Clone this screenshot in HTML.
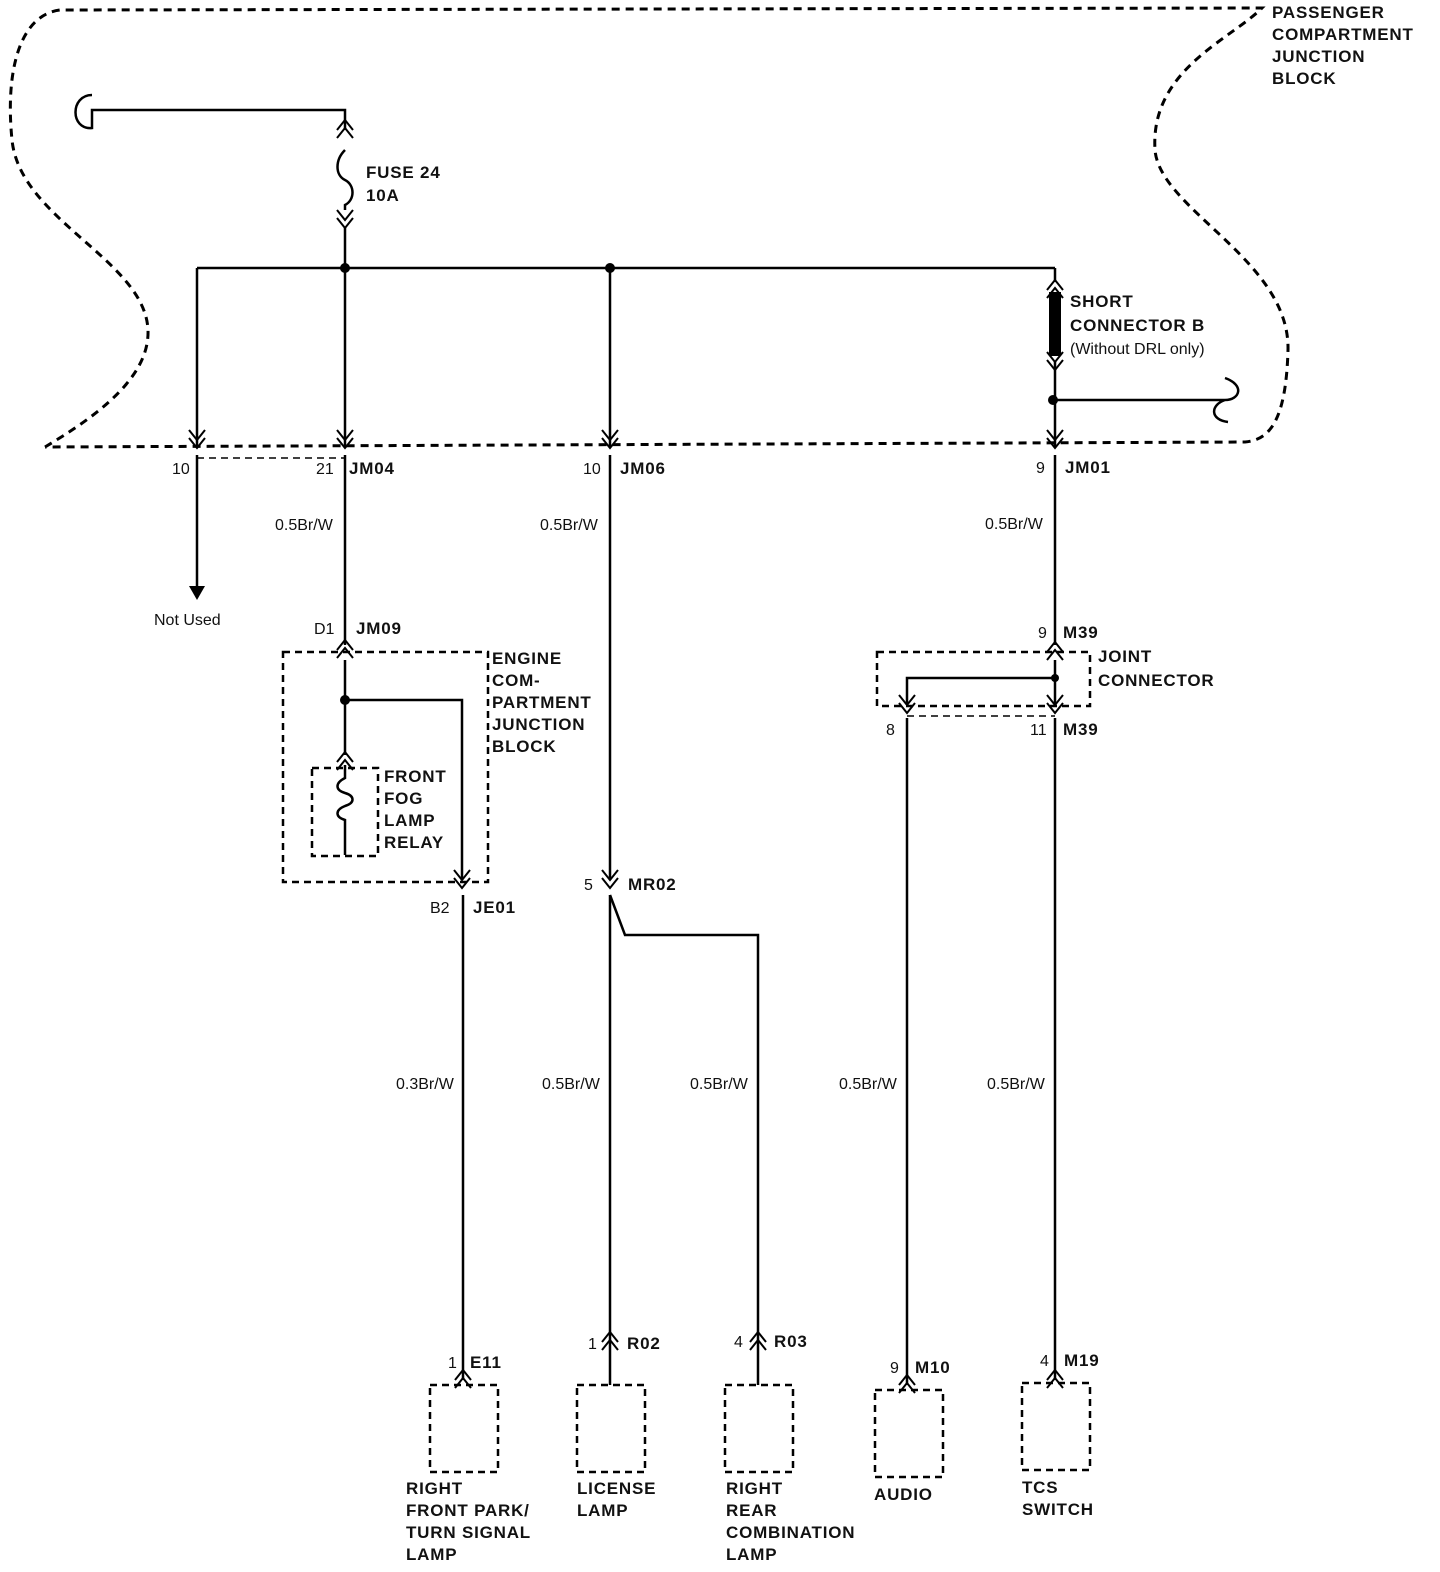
<!DOCTYPE html>
<html><head><meta charset="utf-8"><style>
html,body{margin:0;padding:0;background:#fff;}
svg{display:block}
text{font-family:"Liberation Sans",sans-serif;font-size:16px;fill:#111}
.b{font-weight:bold;font-size:17px;letter-spacing:0.8px}
</style></head><body>
<svg width="1440" height="1572" viewBox="0 0 1440 1572" xmlns="http://www.w3.org/2000/svg">
<defs>
<g id="ch"><polyline points="-8,-10 0,0 8,-10" fill="none" stroke="#000" stroke-width="2"/><polyline points="-8,-2 0,8 8,-2" fill="none" stroke="#000" stroke-width="2"/></g>
<g id="cu"><polyline points="-8,10 0,0 8,10" fill="none" stroke="#000" stroke-width="2"/><polyline points="-8,2 0,-8 8,2" fill="none" stroke="#000" stroke-width="2"/></g>
</defs>
<g fill="none" stroke="#000" stroke-width="3" stroke-dasharray="8,6">
<path d="M45,447 C90,420 150,380 148,330 C145,260 20,220 12,140 C5,70 20,15 60,10 L1262,8 C1230,40 1150,70 1155,150 C1160,210 1290,260 1288,350 C1286,420 1270,440 1245,442 L45,447"/>
</g>
<g fill="none" stroke="#000" stroke-width="2.5">
<path d="M92,95 C70,95 70,130 92,128 L92,110 L345,110 L345,130"/>
<path d="M345,150 C335,160 335,175 345,180 C355,185 355,200 345,205 L345,210"/>
<line x1="345" y1="228" x2="345" y2="447"/>
<line x1="197" y1="268" x2="1055" y2="268"/>
<line x1="197" y1="268" x2="197" y2="447"/>
<line x1="610" y1="268" x2="610" y2="447"/>
<line x1="1055" y1="268" x2="1055" y2="282"/>
<line x1="1055" y1="362" x2="1055" y2="447"/>
<path d="M1055,400 L1225,400 M1225,378 C1245,385 1240,400 1225,400 M1225,400 C1210,405 1210,420 1228,422"/>
<line x1="197" y1="455" x2="197" y2="590"/>
<line x1="345" y1="455" x2="345" y2="645"/>
<line x1="610" y1="455" x2="610" y2="880"/>
<line x1="1055" y1="455" x2="1055" y2="645"/>
<line x1="345" y1="660" x2="345" y2="755"/>
<path d="M345,700 L462,700 L462,880"/>
<line x1="463" y1="895" x2="463" y2="1380"/>
<line x1="610" y1="895" x2="610" y2="1385"/>
<path d="M610,895 L625,935 L758,935 L758,1385"/>
<line x1="1055" y1="660" x2="1055" y2="705"/>
<path d="M1055,678 L907,678 L907,705"/>
<line x1="907" y1="718" x2="907" y2="1385"/>
<line x1="1055" y1="718" x2="1055" y2="1380"/>
<path d="M345,765 L345,778 C335,783 335,790 345,793 C355,796 355,803 345,806 C335,810 335,817 345,820 L345,855"/>
</g>
<rect x="1049" y="292" width="12" height="64" fill="#000"/>
<g fill="#000">
<circle cx="345" cy="268" r="5"/><circle cx="610" cy="268" r="5"/><circle cx="1053" cy="400" r="5"/>
<circle cx="345" cy="700" r="5"/><circle cx="1055" cy="678" r="4"/>
<polygon points="189,586 205,586 197,600"/>
</g>
<use href="#cu" x="345" y="128"/><use href="#ch" x="345" y="220"/>
<use href="#cu" x="1055" y="288"/><use href="#ch" x="1055" y="362"/>
<use href="#ch" x="197" y="440"/><use href="#ch" x="345" y="440"/><use href="#ch" x="610" y="440"/><use href="#ch" x="1055" y="440"/>
<use href="#cu" x="345" y="648"/><use href="#cu" x="345" y="760"/>
<use href="#ch" x="462" y="880"/><use href="#ch" x="610" y="880"/>
<use href="#cu" x="1055" y="650"/><use href="#ch" x="907" y="705"/><use href="#ch" x="1055" y="705"/>
<use href="#cu" x="463" y="1378"/><use href="#cu" x="610" y="1340"/><use href="#cu" x="758" y="1340"/><use href="#cu" x="907" y="1383"/><use href="#cu" x="1055" y="1378"/>
<g fill="none" stroke="#000" stroke-width="2.5" stroke-dasharray="7,5">
<line x1="197" y1="458" x2="345" y2="458" stroke-width="1.5"/>
<rect x="283" y="652" width="205" height="230"/>
<rect x="312" y="768" width="66" height="88"/>
<rect x="877" y="652" width="213" height="54"/>
<line x1="907" y1="716" x2="1055" y2="716" stroke-width="1.5"/>
<rect x="430" y="1385" width="68" height="87"/>
<rect x="577" y="1385" width="68" height="87"/>
<rect x="725" y="1385" width="68" height="87"/>
<rect x="875" y="1390" width="68" height="87"/>
<rect x="1022" y="1383" width="68" height="87"/>
</g>
<g>
<text x="1272" y="18" class="b">PASSENGER</text><text x="1272" y="40" class="b">COMPARTMENT</text><text x="1272" y="62" class="b">JUNCTION</text><text x="1272" y="84" class="b">BLOCK</text>
<text x="366" y="178" class="b">FUSE 24</text><text x="366" y="201" class="b">10A</text>
<text x="1070" y="307" class="b">SHORT</text><text x="1070" y="331" class="b">CONNECTOR B</text>
<text x="349" y="474" class="b">JM04</text><text x="620" y="474" class="b">JM06</text><text x="1065" y="473" class="b">JM01</text>
<text x="356" y="634" class="b">JM09</text><text x="1063" y="638" class="b">M39</text><text x="1063" y="735" class="b">M39</text>
<text x="492" y="664" class="b">ENGINE</text><text x="492" y="686" class="b">COM-</text><text x="492" y="708" class="b">PARTMENT</text><text x="492" y="730" class="b">JUNCTION</text><text x="492" y="752" class="b">BLOCK</text>
<text x="384" y="782" class="b">FRONT</text><text x="384" y="804" class="b">FOG</text><text x="384" y="826" class="b">LAMP</text><text x="384" y="848" class="b">RELAY</text>
<text x="1098" y="662" class="b">JOINT</text><text x="1098" y="686" class="b">CONNECTOR</text>
<text x="628" y="890" class="b">MR02</text><text x="473" y="913" class="b">JE01</text>
<text x="470" y="1368" class="b">E11</text><text x="627" y="1349" class="b">R02</text><text x="774" y="1347" class="b">R03</text><text x="915" y="1373" class="b">M10</text><text x="1064" y="1366" class="b">M19</text>
<text x="406" y="1494" class="b">RIGHT</text><text x="406" y="1516" class="b">FRONT PARK/</text><text x="406" y="1538" class="b">TURN SIGNAL</text><text x="406" y="1560" class="b">LAMP</text>
<text x="577" y="1494" class="b">LICENSE</text><text x="577" y="1516" class="b">LAMP</text>
<text x="726" y="1494" class="b">RIGHT</text><text x="726" y="1516" class="b">REAR</text><text x="726" y="1538" class="b">COMBINATION</text><text x="726" y="1560" class="b">LAMP</text>
<text x="874" y="1500" class="b">AUDIO</text>
<text x="1022" y="1493" class="b">TCS</text><text x="1022" y="1515" class="b">SWITCH</text>
</g>
<text x="1070" y="354">(Without DRL only)</text>
<text x="172" y="474">10</text><text x="316" y="474">21</text><text x="583" y="474">10</text><text x="1036" y="473">9</text>
<text x="275" y="530">0.5Br/W</text><text x="540" y="530">0.5Br/W</text><text x="985" y="529">0.5Br/W</text>
<text x="154" y="625">Not Used</text>
<text x="314" y="634">D1</text><text x="1038" y="638">9</text><text x="886" y="735">8</text><text x="1030" y="735">11</text>
<text x="584" y="890">5</text><text x="430" y="913">B2</text>
<text x="396" y="1089">0.3Br/W</text><text x="542" y="1089">0.5Br/W</text><text x="690" y="1089">0.5Br/W</text><text x="839" y="1089">0.5Br/W</text><text x="987" y="1089">0.5Br/W</text>
<text x="448" y="1368">1</text><text x="588" y="1349">1</text><text x="734" y="1347">4</text><text x="890" y="1373">9</text><text x="1040" y="1366">4</text>
</svg>
</body></html>
